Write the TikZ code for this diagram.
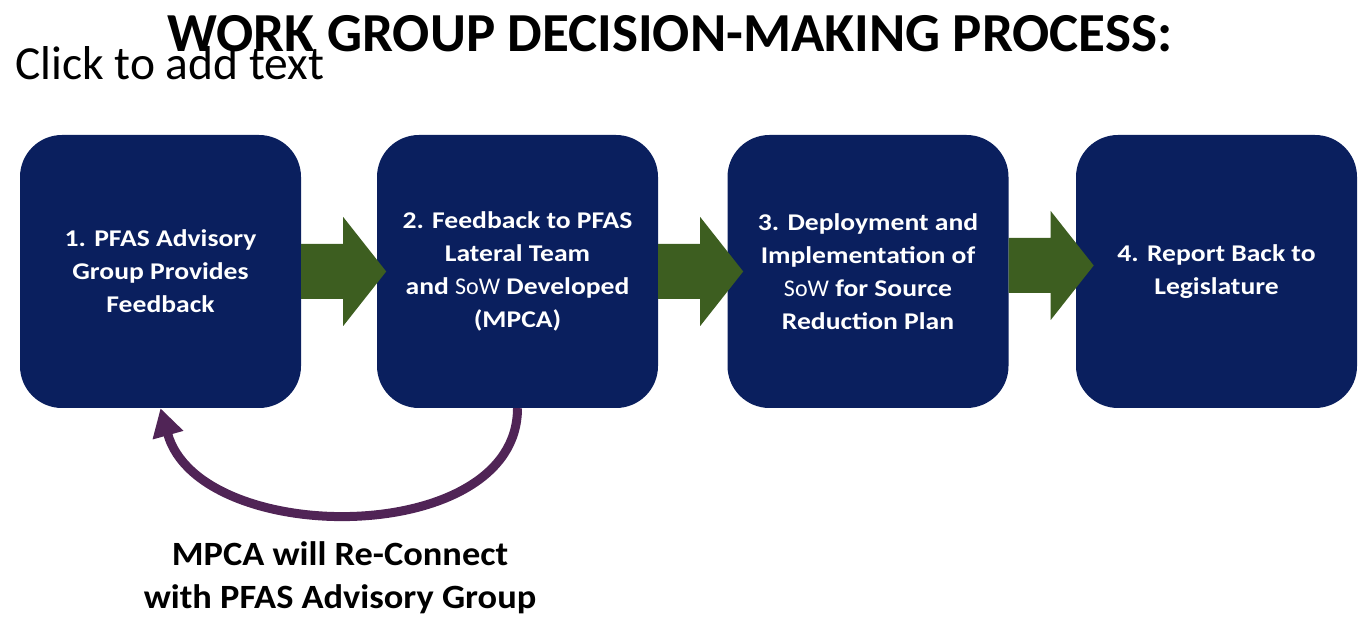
\documentclass[tikz,border=0pt]{standalone}
\usepackage{fontspec}
\setmainfont{Carlito}
\newfontfamily\boxfont[FakeStretch=1.15]{Carlito}
\newfontfamily\notefont[FakeStretch=1.07]{Carlito}
\usetikzlibrary{calc,arrows.meta}
\definecolor{stepnavy}{RGB}{10,31,94}
\definecolor{arrowgreen}{RGB}{61,94,32}
\definecolor{loopplum}{RGB}{80,36,86}
% block arrow leaving the east side of a box, #2 = vertical shift
\newcommand{\flowarrow}[2]{%
  \fill[arrowgreen] ($(#1.east)+(0,#2-27.5)$) -- ++(42,0) -- ++(0,-27) -- ++(43,54.5)
    -- ++(-43,54.5) -- ++(0,-27) -- ($(#1.east)+(0,#2+27.5)$) -- cycle;}
\begin{document}
\begin{tikzpicture}[x=1pt,y=-1pt,line cap=round,line join=round,
  stepbox/.style={fill=stepnavy,rounded corners=42pt,minimum width=281pt,minimum height=273pt,
    inner sep=0pt,text=white,align=center,font=\boxfont\bfseries\fontsize{24}{33}\selectfont}]
\useasboundingbox (0,0) rectangle (1368,617);
\node[anchor=base,font=\bfseries\fontsize{55}{60}\selectfont] (title) at (670,52) {WORK GROUP DECISION-MAKING PROCESS:};
\node[anchor=base west,inner sep=0pt,font=\fontsize{47.5}{54}\selectfont] (hint) at (15,80) {Click to add text};
\node[stepbox] (b1) at (160.5,271.5) {1. PFAS Advisory\\Group Provides\\Feedback};
\node[stepbox] (b2) at (517.5,271.5) {2. Feedback to PFAS\\Lateral Team\\and {\normalfont SoW} Developed\\(MPCA)};
\node[stepbox] (b3) at (868,271.5) {3. Deployment and\\Implementation of\\{\normalfont SoW} for Source\\Reduction Plan};
\node[stepbox] (b4) at (1216.5,271.5) {4. Report Back to\\Legislature};
\flowarrow{b1}{0}
\flowarrow{b2}{0}
\flowarrow{b3}{-6}
\draw[color=loopplum,line width=9pt,line cap=butt,-{Triangle[length=28pt,width=30pt]}] (b2.south) .. controls +(0,140) and +(39,140) .. (b1.south);
\node[anchor=north,inner sep=0pt,align=center,font=\notefont\bfseries\fontsize{34}{43}\selectfont] (note) at (340,541) {MPCA will Re-Connect\\with PFAS Advisory Group};
\end{tikzpicture}
\end{document}
